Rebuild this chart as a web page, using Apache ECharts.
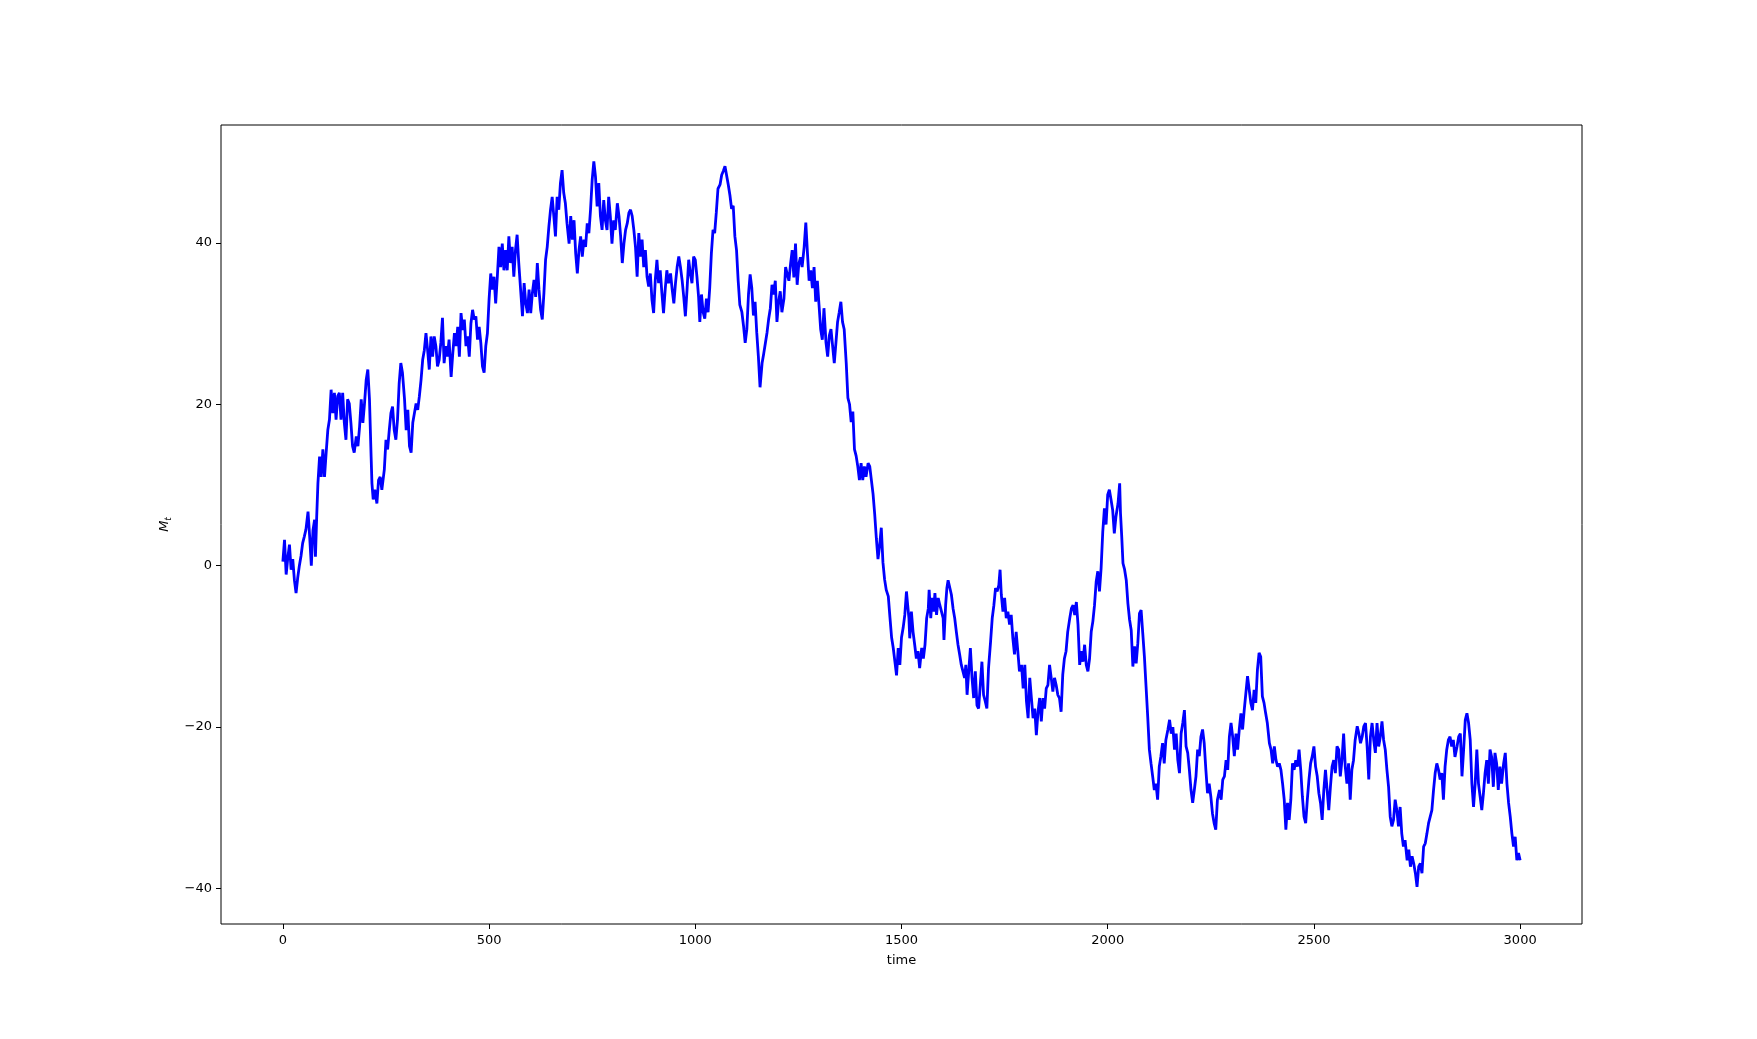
<!DOCTYPE html>
<html>
<head>
<meta charset="utf-8">
<title>M_t</title>
<script src="https://cdn.jsdelivr.net/npm/echarts@6/dist/echarts.min.js"></script>
<style>
html, body { margin: 0; padding: 0; background: #fff; }
#chart { width: 1757px; height: 1039px; }
</style>
</head>
<body>
<div id="chart"></div>
<script>
// M_t against time in six stretches: [time, value]
var walk0to500 = [
  [0, 0.5], [4, 3.2], [8, -1.1], [12, 1.0], [16, 2.6], [20, -0.5], [24, 0.8], [28, -1.8], [32, -3.4], [36, -1.5],
  [40, 0.0], [44, 1.2], [48, 2.8], [52, 3.6], [56, 4.5], [61, 6.7], [65, 3.6], [69, 0.0], [73, 4.4], [77, 5.7],
  [79, 1.1], [82, 6.0], [85, 10.2], [89, 13.5], [93, 11.0], [97, 14.4], [101, 11.0], [105, 14.0], [109, 16.8], [113, 18.1],
  [117, 21.8], [121, 18.9], [125, 21.4], [129, 18.1], [133, 21.0], [137, 21.4], [141, 18.1], [145, 21.4], [149, 17.7], [153, 15.6],
  [157, 20.6], [161, 20.1], [165, 17.7], [169, 14.8], [173, 14.0], [178, 16.0], [182, 14.8], [186, 17.2], [190, 20.6], [194, 17.7],
  [198, 20.1], [202, 23.0], [206, 24.3], [210, 20.6], [214, 13.5], [216, 10.2], [219, 8.2], [223, 9.4], [228, 7.7], [232, 10.6],
  [236, 11.0], [240, 9.4], [246, 11.9], [250, 15.6], [254, 14.4], [258, 16.8], [262, 18.9], [266, 19.7], [270, 16.8], [274, 15.6],
  [278, 18.1], [282, 22.6], [286, 25.1], [290, 23.9], [295, 20.6], [299, 16.8], [303, 19.3], [307, 14.8], [311, 14.0], [315, 17.7],
  [319, 18.9], [323, 20.1], [327, 19.3], [331, 21.0], [335, 23.0], [339, 25.5], [343, 26.7], [347, 28.8], [351, 26.7], [355, 24.3],
  [359, 28.4], [363, 25.9], [367, 28.4], [371, 27.2], [375, 24.7], [379, 25.5], [383, 27.6], [387, 30.7], [391, 25.1], [395, 27.2],
  [399, 25.9], [403, 28.0], [408, 23.4], [412, 26.3], [416, 28.8], [420, 27.2], [424, 29.6], [428, 25.9], [432, 31.3], [436, 29.2],
  [440, 30.5], [444, 27.2], [448, 28.4], [452, 25.9], [456, 30.0], [460, 31.7], [464, 30.5], [468, 30.9], [472, 28.0], [476, 29.6],
  [480, 27.6], [484, 24.7], [488, 23.9], [492, 27.2], [496, 28.8], [500, 33.0]
];
var walk500to1000 = [
  [504, 36.2], [508, 34.2], [512, 35.8], [516, 32.5], [520, 35.8], [524, 39.5], [528, 37.0], [532, 39.9], [536, 36.6], [540, 39.1],
  [544, 36.6], [548, 40.8], [552, 37.5], [556, 39.5], [560, 35.8], [564, 39.1], [568, 41.0], [572, 37.5], [577, 33.8], [581, 30.9],
  [585, 35.0], [589, 32.5], [593, 31.3], [597, 34.2], [601, 31.3], [605, 33.8], [609, 35.4], [613, 33.3], [617, 37.5], [621, 34.2],
  [625, 31.7], [629, 30.5], [633, 33.8], [637, 37.9], [641, 39.5], [645, 42.0], [649, 44.1], [653, 45.7], [657, 43.3], [661, 40.8],
  [665, 45.7], [669, 44.1], [673, 47.4], [677, 49.0], [681, 46.2], [685, 44.9], [689, 42.4], [694, 39.9], [698, 43.3], [702, 40.4],
  [706, 42.8], [710, 38.7], [714, 36.2], [718, 39.1], [722, 40.8], [726, 38.3], [730, 40.4], [734, 39.5], [738, 42.4], [742, 41.2],
  [746, 44.1], [750, 47.8], [754, 50.1], [758, 48.2], [762, 44.5], [766, 47.4], [770, 43.3], [774, 41.6], [778, 45.3], [782, 42.8],
  [786, 41.6], [790, 45.7], [794, 43.3], [798, 39.9], [802, 42.8], [806, 41.6], [811, 44.9], [815, 43.3], [819, 40.8], [823, 37.5],
  [827, 39.9], [831, 41.6], [835, 42.4], [839, 43.7], [843, 44.1], [847, 43.3], [851, 41.6], [855, 39.5], [859, 35.8], [863, 41.2],
  [867, 38.3], [871, 40.4], [875, 37.0], [879, 39.1], [883, 35.8], [887, 34.6], [891, 36.2], [895, 32.9], [899, 31.3], [903, 35.4],
  [907, 37.9], [911, 35.0], [915, 36.6], [919, 33.8], [923, 31.3], [927, 34.2], [931, 36.6], [935, 35.0], [940, 36.2], [944, 34.2],
  [948, 32.5], [952, 35.0], [956, 37.0], [960, 38.3], [964, 37.0], [968, 35.4], [972, 33.3], [976, 30.9], [980, 34.2], [984, 37.9],
  [988, 36.2], [992, 35.0], [996, 38.3], [1000, 37.9], [1004, 35.8], [1008, 33.3]
];
var walk1000to1500 = [
  [1011, 30.2], [1015, 33.6], [1019, 31.4], [1023, 30.6], [1027, 33.1], [1031, 31.4], [1035, 34.4], [1039, 38.7], [1043, 41.6], [1047, 41.2],
  [1051, 43.8], [1055, 46.7], [1060, 47.2], [1064, 48.4], [1068, 48.9], [1072, 49.5], [1076, 49.7], [1080, 47.2], [1084, 45.9], [1088, 44.2],
  [1092, 44.6], [1096, 40.8], [1100, 39.1], [1104, 35.3], [1108, 32.3], [1113, 31.4], [1117, 29.7], [1121, 27.6], [1125, 29.3], [1129, 33.6],
  [1133, 36.1], [1137, 34.4], [1141, 31.0], [1145, 32.7], [1149, 28.9], [1153, 25.9], [1157, 22.1], [1162, 25.1], [1166, 26.3], [1170, 27.6],
  [1174, 28.9], [1178, 30.6], [1182, 31.9], [1186, 34.8], [1190, 33.6], [1194, 35.3], [1198, 30.2], [1202, 32.7], [1206, 34.0], [1210, 31.4],
  [1215, 33.1], [1219, 37.0], [1223, 36.1], [1227, 35.3], [1231, 37.4], [1235, 39.1], [1239, 35.7], [1243, 39.9], [1247, 34.8], [1251, 37.4],
  [1255, 38.2], [1259, 37.0], [1264, 39.5], [1268, 42.5], [1272, 38.7], [1276, 35.3], [1280, 36.6], [1284, 34.4], [1288, 37.0], [1292, 32.7],
  [1296, 35.3], [1300, 32.3], [1304, 29.3], [1308, 28.0], [1312, 31.9], [1317, 27.6], [1321, 25.9], [1325, 28.5], [1329, 29.3], [1333, 27.2],
  [1337, 25.1], [1341, 27.6], [1345, 30.2], [1349, 31.4], [1353, 32.7], [1357, 30.2], [1361, 29.3], [1366, 25.1], [1370, 20.8], [1374, 20.0],
  [1378, 17.8], [1382, 19.1], [1386, 14.4], [1390, 13.6], [1394, 12.3], [1398, 10.6], [1402, 12.7], [1406, 10.6], [1410, 12.3], [1414, 11.0],
  [1419, 12.7], [1423, 12.3], [1427, 10.6], [1431, 8.9], [1435, 6.4], [1439, 3.4], [1443, 0.8], [1447, 2.5], [1451, 4.7], [1455, 0.4],
  [1459, -1.7], [1463, -3.0], [1468, -3.8], [1472, -6.4], [1476, -8.9], [1480, -10.2], [1484, -11.9], [1488, -13.6], [1492, -10.2], [1496, -12.3],
  [1500, -8.9], [1504, -7.7]
];
var walk1500to2000 = [
  [1508, -6.1], [1512, -3.2], [1515, -4.9], [1518, -6.5], [1520, -9.0], [1524, -5.7], [1528, -8.2], [1532, -9.8], [1536, -11.5], [1540, -10.6],
  [1544, -12.7], [1549, -10.2], [1553, -11.5], [1557, -9.8], [1561, -6.5], [1565, -5.3], [1567, -3.0], [1571, -6.5], [1574, -4.0], [1578, -5.7],
  [1581, -3.4], [1585, -6.1], [1589, -4.0], [1593, -4.9], [1597, -5.7], [1601, -6.5], [1603, -9.2], [1607, -4.9], [1610, -2.8], [1613, -1.8],
  [1617, -1.6], [1621, -3.6], [1625, -5.3], [1629, -6.5], [1633, -8.2], [1637, -9.8], [1641, -11.0], [1645, -12.3], [1649, -13.1], [1653, -13.9],
  [1656, -12.3], [1659, -16.0], [1663, -13.1], [1667, -10.2], [1671, -13.9], [1675, -16.4], [1679, -13.1], [1683, -17.3], [1687, -17.7], [1691, -14.8],
  [1695, -11.9], [1699, -16.0], [1703, -16.8], [1707, -17.7], [1711, -12.7], [1716, -9.4], [1720, -6.5], [1724, -4.9], [1728, -2.8], [1732, -3.2],
  [1736, -2.4], [1739, -0.5], [1742, -3.6], [1746, -5.7], [1750, -4.0], [1754, -6.5], [1758, -5.7], [1762, -7.3], [1766, -6.1], [1770, -9.0],
  [1774, -11.0], [1778, -8.2], [1782, -10.6], [1786, -13.1], [1791, -12.3], [1795, -15.2], [1799, -12.3], [1803, -16.8], [1807, -18.9], [1811, -13.9],
  [1815, -16.4], [1819, -18.9], [1823, -17.7], [1827, -21.0], [1831, -18.1], [1835, -16.4], [1839, -19.3], [1843, -16.4], [1847, -17.7], [1851, -15.2],
  [1855, -14.8], [1859, -12.3], [1863, -13.9], [1867, -15.6], [1871, -13.9], [1875, -14.8], [1879, -16.0], [1883, -16.4], [1887, -18.1], [1891, -13.5],
  [1895, -11.5], [1899, -10.6], [1903, -8.2], [1908, -6.5], [1912, -5.3], [1916, -4.9], [1920, -6.1], [1924, -4.5], [1928, -7.3], [1932, -12.3],
  [1936, -10.6], [1940, -11.9], [1944, -9.8], [1948, -12.3], [1952, -13.1], [1956, -11.5], [1960, -8.2], [1964, -6.9], [1968, -4.9], [1972, -2.0],
  [1976, -0.7], [1980, -3.2], [1984, -0.3], [1988, 4.2], [1992, 7.1], [1996, 5.1], [2000, 8.8]
];
var walk2000to2500 = [
  [2004, 9.4], [2008, 8.2], [2012, 6.9], [2016, 4.0], [2020, 6.1], [2025, 7.7], [2029, 10.2], [2031, 6.5], [2034, 3.6], [2037, 0.3],
  [2041, -0.5], [2045, -1.8], [2049, -4.7], [2053, -6.7], [2057, -8.0], [2061, -12.5], [2065, -10.0], [2069, -12.1], [2073, -9.6], [2077, -5.9],
  [2081, -5.5], [2085, -8.4], [2089, -11.3], [2093, -15.0], [2097, -18.7], [2101, -22.8], [2105, -24.5], [2109, -26.1], [2113, -27.8], [2117, -27.0],
  [2121, -29.0], [2125, -24.9], [2129, -23.6], [2133, -22.0], [2137, -24.5], [2141, -21.6], [2146, -20.3], [2150, -19.1], [2154, -20.8], [2158, -20.0],
  [2162, -22.8], [2166, -20.8], [2170, -24.1], [2174, -25.7], [2178, -20.8], [2182, -19.5], [2186, -17.9], [2190, -22.4], [2194, -23.2], [2198, -25.3],
  [2202, -27.8], [2206, -29.4], [2210, -27.8], [2214, -26.1], [2218, -22.8], [2222, -23.6], [2226, -21.2], [2230, -20.3], [2234, -22.0], [2238, -25.3],
  [2242, -28.2], [2246, -27.0], [2250, -28.6], [2254, -30.7], [2258, -31.9], [2262, -32.7], [2266, -29.0], [2271, -27.8], [2275, -29.0], [2279, -26.5],
  [2283, -26.1], [2287, -24.1], [2291, -25.3], [2295, -21.2], [2299, -19.5], [2303, -21.2], [2307, -23.6], [2311, -20.8], [2315, -22.8], [2319, -20.3],
  [2323, -18.3], [2327, -20.3], [2331, -17.9], [2335, -17.9], [2339, -13.7], [2343, -13.7], [2347, -17.0], [2351, -17.9], [2355, -15.4], [2359, -17.0],
  [2363, -12.9], [2367, -10.8], [2371, -11.3], [2375, -16.2], [2379, -17.0], [2383, -18.3], [2387, -19.5], [2392, -22.0], [2396, -22.8], [2400, -24.5],
  [2404, -22.4], [2408, -24.1], [2412, -24.9], [2416, -24.5], [2420, -25.3], [2424, -27.0], [2428, -29.0], [2432, -32.7], [2436, -29.4], [2440, -31.5],
  [2444, -29.0], [2448, -24.5], [2452, -25.3], [2456, -24.1], [2460, -24.9], [2464, -22.8], [2468, -25.3], [2472, -28.6], [2476, -31.1], [2480, -31.9],
  [2484, -29.0], [2488, -26.5], [2492, -24.5], [2496, -23.6]
];
var walk2500to3000 = [
  [2500, -22.4], [2504, -24.9], [2508, -26.1], [2512, -28.2], [2516, -29.4], [2520, -31.5], [2524, -27.8], [2528, -25.3], [2532, -27.8], [2536, -30.3],
  [2540, -27.4], [2544, -24.9], [2548, -24.1], [2552, -25.7], [2556, -22.4], [2560, -22.8], [2564, -26.1], [2568, -24.1], [2572, -20.8], [2576, -24.9],
  [2580, -27.0], [2584, -24.5], [2588, -29.0], [2592, -25.3], [2596, -24.1], [2600, -21.6], [2605, -19.9], [2609, -20.8], [2613, -22.0], [2617, -21.2],
  [2621, -19.9], [2625, -19.5], [2629, -22.4], [2633, -26.5], [2637, -21.2], [2641, -19.5], [2645, -21.6], [2649, -23.2], [2653, -19.5], [2657, -22.4],
  [2661, -21.2], [2665, -19.3], [2669, -21.6], [2673, -22.8], [2677, -25.3], [2681, -27.4], [2685, -31.1], [2689, -32.3], [2693, -31.5], [2697, -29.0],
  [2701, -30.3], [2705, -32.3], [2709, -29.9], [2713, -33.2], [2717, -34.8], [2721, -34.0], [2726, -36.5], [2730, -35.2], [2734, -37.3], [2738, -36.0],
  [2742, -36.9], [2746, -38.1], [2750, -39.8], [2754, -37.3], [2758, -36.9], [2762, -38.1], [2766, -34.8], [2770, -34.4], [2774, -33.2], [2778, -31.9],
  [2782, -31.1], [2786, -30.3], [2790, -27.8], [2794, -25.7], [2798, -24.5], [2802, -25.3], [2806, -26.5], [2810, -25.7], [2814, -29.0], [2818, -24.9],
  [2822, -22.8], [2826, -21.6], [2830, -21.2], [2834, -22.4], [2838, -21.6], [2842, -23.7], [2847, -22.4], [2851, -21.2], [2855, -20.8], [2859, -26.1],
  [2863, -22.8], [2867, -19.1], [2871, -18.3], [2875, -19.5], [2879, -21.6], [2883, -27.0], [2887, -29.9], [2891, -27.0], [2895, -22.8], [2899, -27.0],
  [2903, -28.6], [2907, -30.3], [2911, -28.2], [2915, -25.7], [2919, -24.1], [2923, -27.0], [2927, -22.8], [2931, -23.7], [2935, -27.4], [2939, -23.2],
  [2943, -24.5], [2947, -27.8], [2951, -24.9], [2955, -27.0], [2960, -24.5], [2964, -23.2], [2968, -27.0], [2972, -29.4], [2976, -31.1], [2980, -33.2],
  [2984, -34.8], [2988, -33.6], [2992, -36.5], [2996, -35.6], [3000, -36.5]
];

var xTicks = [0, 500, 1000, 1500, 2000, 2500, 3000];
var yTicks = [-40, -20, 0, 20, 40];

var walk = walk0to500.concat(walk500to1000, walk1000to1500, walk1500to2000, walk2000to2500, walk2500to3000);

var labelFont = "DejaVu Sans";
// matplotlib style tick text: no thousands separator, real minus sign
function tickText(value) {
  return String(value).replace("-", "\u2212");
}

var myChart = echarts.init(document.getElementById("chart"));
myChart.setOption({
  animation: false,
  backgroundColor: "#ffffff",
  grid: {
    left: 221,
    top: 125,
    width: 1361,
    height: 799,
    show: true,
    borderColor: "#000000",
    borderWidth: 1,
    backgroundColor: "transparent",
  },
  xAxis: {
    type: "value",
    min: -150,
    max: 3150,
    splitLine: { show: false },
    axisLine: { show: false, onZero: false },
    axisTick: {
      show: true,
      length: 5,
      customValues: xTicks,
      lineStyle: { color: "#000000", width: 1 },
    },
    axisLabel: {
      customValues: xTicks,
      color: "#000000",
      fontSize: 13,
      fontFamily: labelFont,
      margin: 10,
      formatter: tickText,
    },
    name: "time",
    nameLocation: "middle",
    nameGap: 30,
    nameTextStyle: { color: "#000000", fontSize: 13, fontFamily: labelFont },
  },
  yAxis: {
    type: "value",
    min: -44.4,
    max: 54.6,
    splitLine: { show: false },
    axisLine: { show: false, onZero: false },
    axisTick: {
      show: true,
      length: 5,
      customValues: yTicks,
      lineStyle: { color: "#000000", width: 1 },
    },
    axisLabel: {
      customValues: yTicks,
      color: "#000000",
      fontSize: 13,
      fontFamily: labelFont,
      margin: 9,
      formatter: tickText,
    },
    name: "{m|M}{t|t}",
    nameLocation: "middle",
    nameGap: 48,
    nameRotate: 90,
    nameTextStyle: {
      color: "#000000",
      fontFamily: labelFont,
      rich: {
        m: { fontSize: 13, fontStyle: "italic", fontFamily: labelFont, color: "#000000" },
        t: { fontSize: 9, fontStyle: "italic", fontFamily: labelFont, color: "#000000", padding: [8, 0, 0, 0] },
      },
    },
  },
  series: [
    {
      name: "M_t",
      type: "line",
      data: walk,
      showSymbol: false,
      symbol: "none",
      lineStyle: { color: "#0000ff", width: 2.8 },
    },
  ],
});
</script>
</body>
</html>
